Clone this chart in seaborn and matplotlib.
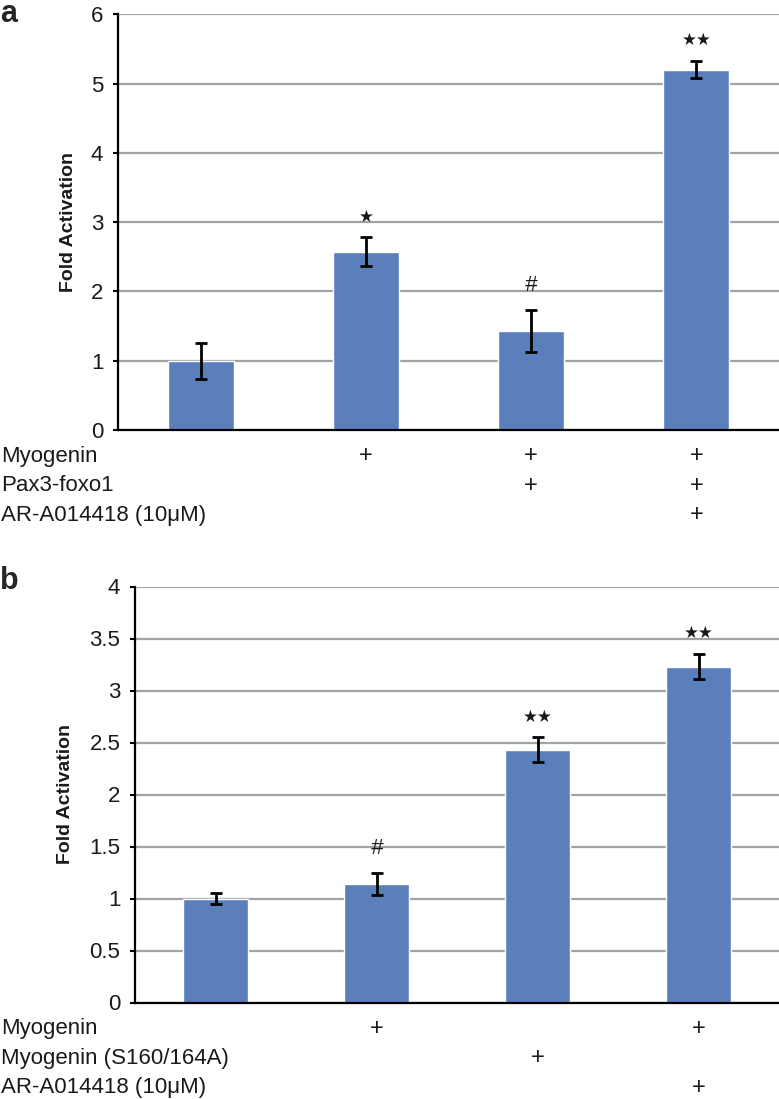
import matplotlib
matplotlib.use('Agg')
import matplotlib.pyplot as plt
import pandas as pd
import seaborn as sns

# panel a: Myogenin / Pax3-foxo1 / AR-A014418
groups_a = ['control', 'myogenin', 'myogenin+pax3', 'myogenin+pax3+ar']
fold_a = [1.00, 2.57, 1.43, 5.20]
err_a = [0.26, 0.21, 0.30, 0.125]
marks_a = ['', '\u2605', '#', '\u2605\u2605']
rows_a = ['Myogenin', 'Pax3-foxo1', 'AR-A014418 (10\u03bcM)']
plus_a = [[0, 1, 1, 1],
          [0, 0, 1, 1],
          [0, 0, 0, 1]]
yticks_a = [0, 1, 2, 3, 4, 5, 6]
yticklabels_a = ['0', '1', '2', '3', '4', '5', '6']

# panel b: Myogenin / Myogenin (S160/164A) / AR-A014418
groups_b = ['control', 'myogenin', 'mutant', 'myogenin+ar']
fold_b = [1.00, 1.14, 2.43, 3.23]
err_b = [0.055, 0.105, 0.12, 0.12]
marks_b = ['', '#', '\u2605\u2605', '\u2605\u2605']
rows_b = ['Myogenin', 'Myogenin (S160/164A)', 'AR-A014418 (10\u03bcM)']
plus_b = [[0, 1, 0, 1],
          [0, 0, 1, 0],
          [0, 0, 0, 1]]
yticks_b = [0, 0.5, 1, 1.5, 2, 2.5, 3, 3.5, 4]
yticklabels_b = ['0', '0.5', '1', '1.5', '2', '2.5', '3', '3.5', '4']

BAR_COLOR = '#5b7fbb'
GRID_COLOR = '#a3a3a3'
TEXT_COLOR = '#1a1a1a'

sns.set_style('white')
plt.rcParams['font.family'] = ['Liberation Sans', 'DejaVu Sans']

W, H = 779, 1099
fig = plt.figure(figsize=(W / 100, H / 100), dpi=100)

# axes boxes in pixels: left, bottom(px from top), top(px from top)
ax_a = fig.add_axes([118 / W, 1 - 430 / H, 1 - 118 / W, (430 - 14.3) / H])
ax_b = fig.add_axes([135 / W, 1 - 1002.5 / H, 1 - 135 / W, (1002.5 - 586.5) / H])


def draw_panel(ax, groups, fold, err, marks, rows, plus, yticks, yticklabels,
               ylabel_x, letter, letter_y):
    df = pd.DataFrame({'group': groups, 'fold': fold})
    sns.barplot(data=df, x='group', y='fold', color=BAR_COLOR, width=0.4,
                errorbar=None, saturation=1, ax=ax, zorder=3)
    ax.errorbar(range(len(groups)), fold, yerr=err, fmt='none', ecolor='black',
                elinewidth=2, capsize=4, capthick=2, zorder=4)

    ax.set_xlim(-0.5, len(groups) - 0.5)
    ax.set_ylim(yticks[0], yticks[-1])
    ax.set_yticks(yticks)
    ax.set_yticklabels(yticklabels)
    ax.set_xticks([])
    ax.set_xlabel('')
    ax.tick_params(axis='y', which='major', direction='out', length=3.6, width=1.5,
                   pad=7, labelsize=16, left=True, colors='black',
                   labelcolor=TEXT_COLOR)
    ax.yaxis.grid(True, color=GRID_COLOR, linewidth=1.6, zorder=0)
    ax.set_axisbelow(True)
    for side in ['top', 'right']:
        ax.spines[side].set_visible(False)
    for side in ['left', 'bottom']:
        ax.spines[side].set_color('black')
        ax.spines[side].set_linewidth(1.6)
        ax.spines[side].set_zorder(5)

    ax.set_ylabel('Fold Activation', fontsize=14, fontweight='bold', color=TEXT_COLOR)
    ax.yaxis.set_label_coords(ylabel_x, 0.5)

    # significance marks above the error bars
    for i, m in enumerate(marks):
        if not m:
            continue
        if m == '#':
            ax.annotate(m, xy=(i, fold[i] + err[i]), xytext=(0, 18),
                        textcoords='offset points', ha='center', va='center',
                        fontsize=16, style='italic', color=TEXT_COLOR)
        else:
            ax.annotate(m, xy=(i, fold[i] + err[i]), xytext=(0, 15),
                        textcoords='offset points', ha='center', va='center',
                        fontsize=12, family=['DejaVu Sans'], color=TEXT_COLOR)

    # condition table under the axis
    for r, label in enumerate(rows):
        off = 19 + 21.1 * r
        ax.annotate(label, xy=(1 / W, 0), xycoords=('figure fraction', 'axes fraction'),
                    xytext=(0, -off), textcoords='offset points',
                    ha='left', va='center', fontsize=16, color=TEXT_COLOR,
                    annotation_clip=False)
        for i, flag in enumerate(plus[r]):
            if flag:
                ax.annotate('+', xy=(i, 0), xycoords=('data', 'axes fraction'),
                            xytext=(0, -off), textcoords='offset points',
                            ha='center', va='center', fontsize=17,
                            color=TEXT_COLOR, annotation_clip=False)

    fig.text(0.5 / W, 1 - letter_y / H, letter, fontsize=22, fontweight='bold',
             ha='left', va='top')


draw_panel(ax_a, groups_a, fold_a, err_a, marks_a, rows_a, plus_a,
           yticks_a, yticklabels_a, -0.062, 'a', -1)
draw_panel(ax_b, groups_b, fold_b, err_b, marks_b, rows_b, plus_b,
           yticks_b, yticklabels_b, -0.095, 'b', 566)

fig.savefig('out.png', dpi=100)
plt.close(fig)
